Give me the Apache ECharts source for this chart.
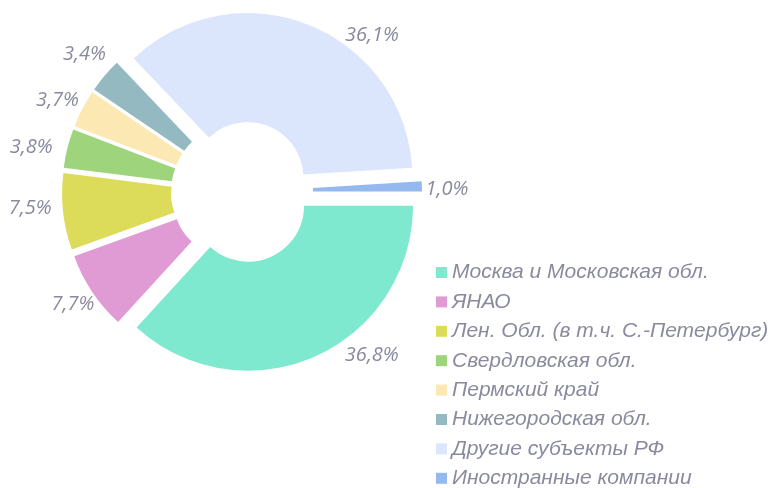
<!DOCTYPE html>
<html>
<head>
<meta charset="utf-8">
<script src="https://cdn.jsdelivr.net/npm/echarts@6/dist/echarts.min.js"></script>
<style>
  html, body { margin: 0; padding: 0; background: #fff; }
  #chart { width: 771px; height: 488px; }
</style>
</head>
<body>
<div id="chart"></div>
<script>
// regions and their share, %
const regions = [
  "Москва и Московская обл.",
  "ЯНАО",
  "Лен. Обл. (в т.ч. С.-Петербург)",
  "Свердловская обл.",
  "Пермский край",
  "Нижегородская обл.",
  "Другие субъекты РФ",
  "Иностранные компании"
];
const shares = [36.8, 7.7, 7.5, 3.8, 3.7, 3.4, 36.1, 1.0];
const colors = ["#7ee9cf", "#e09bd4", "#dddb5a", "#9dd47c", "#fce8b3", "#94b9c1", "#dbe5fb", "#95b8ee"];

const textColor = "#8a8a9e";

const chart = echarts.init(document.getElementById("chart"), null, { renderer: "canvas" });

const pieData = regions.map((name, i) => ({
  name: name,
  value: shares[i],
  selected: true,
  itemStyle: { color: colors[i] }
}));

// small hand nudges so labels sit where the original placed them
const labelNudge = {
  0: [46, -27], 1: [4, -3], 2: [-5, -7], 3: [-9, 6],
  4: [0, 4], 5: [1, -3], 6: [54, 37], 7: [-3, 4]
};

chart.setOption({
  animation: false,
  color: colors,
  legend: {
    orient: "vertical",
    left: 436,
    top: 262,
    height: 260,
    padding: 0,
    icon: "rect",
    itemWidth: 11,
    itemHeight: 11,
    itemGap: 8.4,
    selectedMode: false,
    data: regions,
    textStyle: {
      fontFamily: "Liberation Sans",
      fontStyle: "italic",
      fontSize: 21,
      lineHeight: 21,
      color: textColor
    }
  },
  series: [{
    type: "pie",
    center: [242, 192],
    radius: [56, 165],
    startAngle: 0,
    clockwise: true,
    selectedMode: "multiple",
    selectedOffset: 15,
    avoidLabelOverlap: false,
    emphasis: { disabled: true },
    select: { itemStyle: { borderWidth: 0 } },
    label: {
      show: true,
      position: "outside",
      distanceToLabelLine: 0,
      fontFamily: "Open Sans",
      fontStyle: "italic",
      fontSize: 20,
      color: textColor,
      formatter: p => p.value.toFixed(1).replace(".", ",") + "%"
    },
    labelLine: { show: false, length: 28, length2: 0 },
    labelLayout: function (p) {
      const w = p.labelRect.width;
      const n = labelNudge[p.dataIndex] || [0, 0];
      const dx = (p.align === "left" ? -w / 2 : (p.align === "right" ? w / 2 : 0)) + n[0];
      return { dx: dx, dy: n[1] };
    },
    data: pieData
  }]
});
</script>
</body>
</html>
